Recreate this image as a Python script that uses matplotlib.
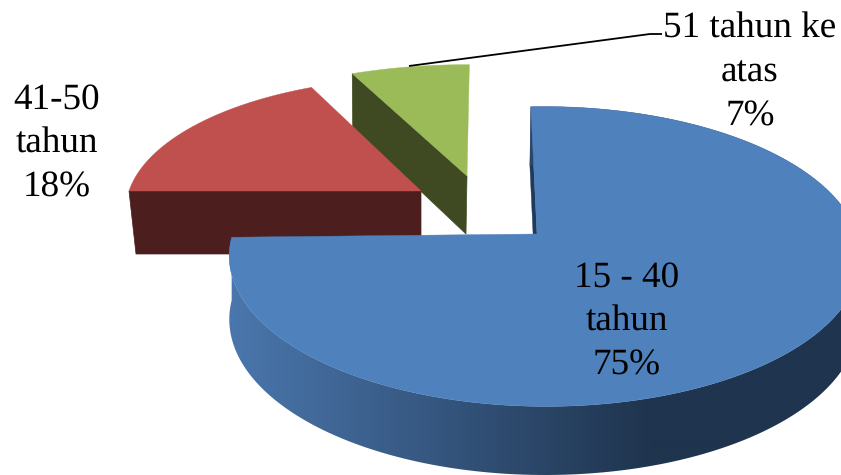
import numpy as np
import matplotlib
matplotlib.use('Agg')
import matplotlib.pyplot as plt
from matplotlib.patches import Polygon
from matplotlib.colors import to_rgb

plt.rcParams['font.family'] = ['Liberation Serif', 'DejaVu Serif']
plt.rcParams['text.hinting'] = 'none'

# data
categories = ['15 - 40\ntahun', '41-50\ntahun', '51 tahun ke\natas']
shares = [75, 18, 7]
pct_labels = ['75%', '18%', '7%']

top_colors = ['#4F81BD', '#C0504D', '#9BBB59']
wall_colors = [None, '#4C1F1E', '#3F4A22']

# pixel canvas, projection of each slice: cx, cy, a, b, k, m
slice_rot = [-1.3, 0.0, 0.5]
top_proj = [(537, 234, 312, 146.5, 0.150, -0.025),
            (421, 191, 292, 130, 0.150, 0.0),
            (467, 176, 312, 128, 0.150, 0.0)]
bot_proj = [(536, 297, 311, 151.6, 0.148, -0.025),
            (421, 254, 285, 130, 0.150, 0.0),
            (466, 234, 308, 134, 0.150, 0.0)]


def project(proj, ang):
    # ang is degrees clockwise from 12 o'clock
    cx, cy, a, b, k, m = proj
    u = np.sin(np.radians(ang))
    v = np.cos(np.radians(ang))
    s = 1.0 / (1 + k * v + m * u)
    return np.column_stack([cx + a * u * s, cy - b * v * s])


fig = plt.figure(figsize=(8.41, 4.75), dpi=100)
ax = fig.add_axes([0, 0, 1, 1])

edges = np.cumsum([0] + shares) * 3.6
bounds = [edges[i] + slice_rot[i] for i in range(3)]
arcs = [np.linspace(edges[i], edges[i + 1], 240) + slice_rot[i] for i in range(3)]

# green slice first, red sits over its wall, blue is in front
for i in [2, 1]:
    tp = top_proj[i]
    bp = bot_proj[i]
    ang = bounds[i]
    quad = [(tp[0], tp[1]), (bp[0], bp[1]),
            project(bp, ang)[0], project(tp, ang)[0]]
    ax.add_patch(Polygon(quad, closed=True, fc=wall_colors[i], ec=wall_colors[i], lw=0.5, zorder=5 - i))
    face = np.vstack([[tp[0], tp[1]], project(tp, arcs[i])])
    ax.add_patch(Polygon(face, closed=True, fc=top_colors[i], ec=top_colors[i], lw=0.3, zorder=5 - i))

# blue wall, gradient image clipped to the rim
tp = top_proj[0]
bp = bot_proj[0]
rim_top = project(tp, arcs[0])
rim_bot = project(bp, arcs[0])
light = np.array(to_rgb('#4A76AC'))
dark = np.array(to_rgb('#1F344E'))
grad_x = np.arange(0, 841)
t = np.clip((grad_x - 235) / (650 - 235), 0, 1)[None, :, None]
grad = light * (1 - t) + dark * t
wall_img = ax.imshow(grad, extent=[0, 841, 475, 0], aspect='auto', zorder=6, interpolation='bilinear')
wall_outline = Polygon(np.vstack([rim_top, rim_bot[::-1]]), closed=True, transform=ax.transData)
wall_img.set_clip_path(wall_outline)

# small inner wall at the top of the blue slice
inner = [(tp[0], tp[1]), (bp[0], bp[1]), project(bp, bounds[0])[0], project(tp, bounds[0])[0]]
ax.add_patch(Polygon(inner, closed=True, fc='#1F3A5C', ec='#1F3A5C', lw=0.3, zorder=1))

face = np.vstack([[tp[0], tp[1]], rim_top])
ax.add_patch(Polygon(face, closed=True, fc=top_colors[0], ec=top_colors[0], lw=0.3, zorder=7))

# leader line for the small slice
ax.plot([409, 650, 662], [66, 34, 34], color='black', lw=1.3, zorder=8, solid_capstyle='butt')

label_xy = [(627, 322), (57, 144), (750, 73)]
for cat, pct, (x, y) in zip(categories, pct_labels, label_xy):
    ax.text(x, y, cat + '\n' + pct, ha='center', va='center', multialignment='center',
            fontsize=26.7, linespacing=1.4, color='black', zorder=9)

ax.set_xlim(0, 841)
ax.set_ylim(475, 0)
ax.axis('off')

fig.savefig('out.png', dpi=100)
